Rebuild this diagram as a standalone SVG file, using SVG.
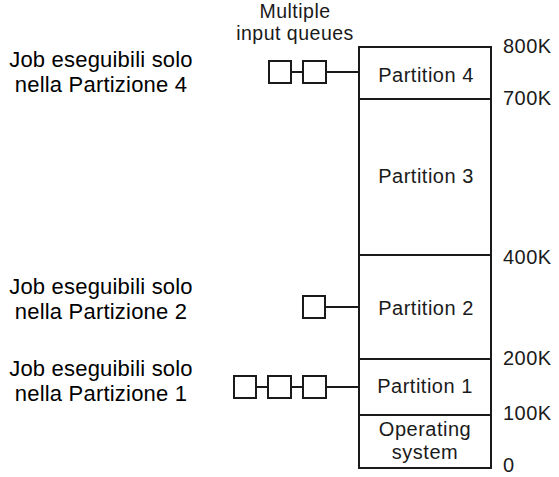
<svg xmlns="http://www.w3.org/2000/svg" width="559" height="477" viewBox="0 0 559 477">
<style>
.ln{fill:none;stroke:#1a1a1a;stroke-width:2}
.bx{fill:#fff;stroke:#1a1a1a;stroke-width:2}
.t{font-family:"Liberation Sans",Arial,sans-serif;fill:#1a1a1a}
.p{font-size:20px;letter-spacing:0.5px;text-anchor:middle}
.k{font-size:20px;letter-spacing:0.5px}
.j{font-size:22px;letter-spacing:0.2px;text-anchor:middle;fill:#000}
.h{font-size:19.5px;letter-spacing:0.5px;text-anchor:middle}
</style>
<rect width="559" height="477" fill="#fff"/>
<g id="memory">
<g id="partition4"><rect class="bx" x="359" y="47" width="132" height="52"/><text class="t p" x="426" y="82">Partition 4</text></g>
<g id="partition3"><rect class="bx" x="359" y="99" width="132" height="156"/><text class="t p" x="426" y="183">Partition 3</text></g>
<g id="partition2"><rect class="bx" x="359" y="255" width="132" height="104"/><text class="t p" x="426" y="315">Partition 2</text></g>
<g id="partition1"><rect class="bx" x="359" y="359" width="132" height="56"/><text class="t p" x="425" y="393">Partition 1</text></g>
<g id="os"><rect class="bx" x="359" y="415" width="132" height="53"/><text class="t p" x="425" y="436">Operating</text><text class="t p" x="425" y="459">system</text></g>
</g>
<g id="addresses" class="t k">
<text x="503" y="53">800K</text>
<text x="503" y="105">700K</text>
<text x="503" y="264">400K</text>
<text x="503" y="365">200K</text>
<text x="503" y="420">100K</text>
<text x="503" y="472">0</text>
</g>
<g id="header"><text class="t h" x="295" y="18">Multiple</text><text class="t h" x="295" y="40">input queues</text></g>
<g id="connectors">
<line class="ln" x1="326" y1="72" x2="359" y2="72"/>
<line class="ln" x1="291" y1="72" x2="303" y2="72"/>
<line class="ln" x1="325" y1="307" x2="359" y2="307"/>
<line class="ln" x1="326" y1="387" x2="359" y2="387"/>
<line class="ln" x1="291" y1="387" x2="303" y2="387"/>
<line class="ln" x1="256" y1="387" x2="268" y2="387"/>
</g>
<g id="queue4">
<rect class="bx" x="269" y="61" width="22" height="22"/>
<rect class="bx" x="303" y="61" width="23" height="22"/>
</g>
<g id="queue2">
<rect class="bx" x="303" y="296" width="22" height="22"/>
</g>
<g id="queue1">
<rect class="bx" x="234" y="376" width="22" height="22"/>
<rect class="bx" x="268" y="376" width="23" height="22"/>
<rect class="bx" x="303" y="376" width="23" height="22"/>
</g>
<g id="label4"><text class="t j" x="101" y="67">Job eseguibili solo</text><text class="t j" x="101" y="92">nella Partizione 4</text></g>
<g id="label2"><text class="t j" x="101" y="294">Job eseguibili solo</text><text class="t j" x="101" y="319">nella Partizione 2</text></g>
<g id="label1"><text class="t j" x="101" y="376">Job eseguibili solo</text><text class="t j" x="101" y="401">nella Partizione 1</text></g>
</svg>
